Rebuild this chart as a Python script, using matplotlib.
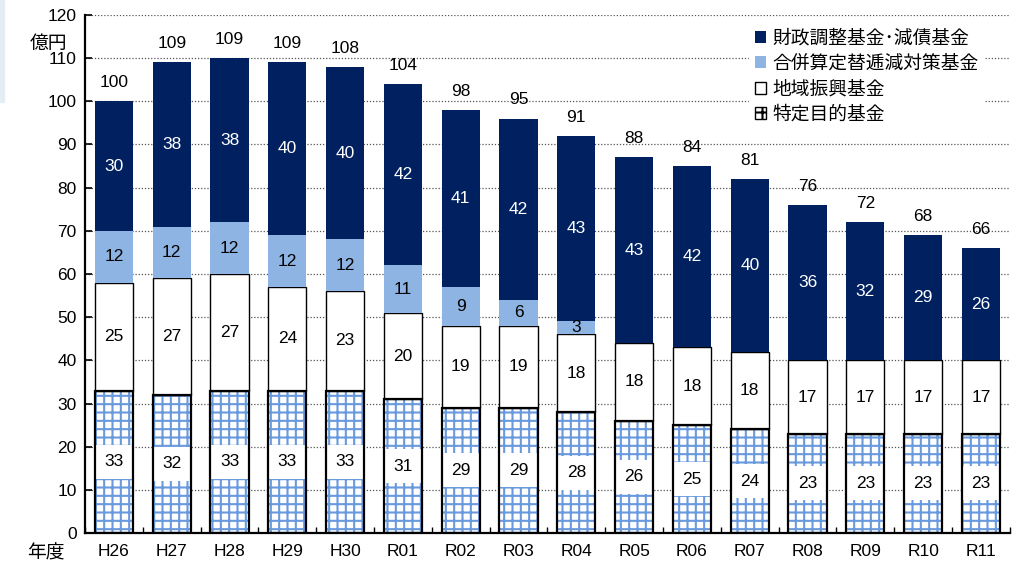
import numpy as np
import matplotlib.pyplot as plt
from matplotlib.patches import Patch, Rectangle

plt.rcParams['font.family'] = ['Liberation Sans', 'Noto Sans CJK JP']
plt.rcParams['hatch.linewidth'] = 1.5

# 基金残高の推移（億円）
nendo = ['H26', 'H27', 'H28', 'H29', 'H30', 'R01', 'R02', 'R03',
         'R04', 'R05', 'R06', 'R07', 'R08', 'R09', 'R10', 'R11']
tokutei = [33, 32, 33, 33, 33, 31, 29, 29, 28, 26, 25, 24, 23, 23, 23, 23]
chiiki = [25, 27, 27, 24, 23, 20, 19, 19, 18, 18, 18, 18, 17, 17, 17, 17]
gappei = [12, 12, 12, 12, 12, 11, 9, 6, 3, 0, 0, 0, 0, 0, 0, 0]
zaisei = [30, 38, 38, 40, 40, 42, 41, 42, 43, 43, 42, 40, 36, 32, 29, 26]
goukei = [100, 109, 109, 109, 108, 104, 98, 95, 91, 88, 84, 81, 76, 72, 68, 66]

NAVY = '#002060'
LIGHT = '#8db4e2'
HATCH = '#6a9ade'

fig = plt.figure(figsize=(10.17, 5.66), dpi=100)
fig.patches.append(Rectangle((0, 0.82), 0.004, 0.18, transform=fig.transFigure,
                             color='#e4edf1', zorder=0))
ax = fig.add_axes([0.0836, 0.0583, 0.9094, 0.9152])

x = np.arange(len(nendo))
w = 0.66

t = np.array(tokutei)
c = np.array(chiiki)
g = np.array(gappei)
z = np.array(zaisei)

# 特定目的基金（格子模様）
ax.bar(x, t, w, color='white', edgecolor=HATCH, hatch='++', linewidth=0, zorder=2)
ax.bar(x, t, w, fill=False, edgecolor='black', linewidth=1.6, zorder=5)
# 地域振興基金
ax.bar(x, c, w, bottom=t, color='white', edgecolor='black', linewidth=1.0, zorder=2)
# 合併算定替逓減対策基金
ax.bar(x, g, w, bottom=t + c, color=LIGHT, edgecolor='none', zorder=2)
# 財政調整基金・減債基金
ax.bar(x, z, w, bottom=t + c + g, color=NAVY, edgecolor='none', zorder=2)

fs = 12.5
for i in range(len(nendo)):
    ax.text(x[i], t[i] / 2, str(tokutei[i]), ha='center', va='center', fontsize=fs,
            zorder=4, bbox=dict(boxstyle='square,pad=0.55', fc='white', ec='none'))
    ax.text(x[i], t[i] + c[i] / 2, str(chiiki[i]), ha='center', va='center',
            fontsize=fs, zorder=4)
    if g[i] > 0:
        ax.text(x[i], t[i] + c[i] + g[i] / 2, str(gappei[i]), ha='center',
                va='center', fontsize=fs, zorder=4)
    ax.text(x[i], t[i] + c[i] + g[i] + z[i] / 2, str(zaisei[i]), ha='center',
            va='center', fontsize=fs, color='white', zorder=4)
    ax.annotate(str(goukei[i]), (x[i], t[i] + c[i] + g[i] + z[i]),
                xytext=(0, 8), textcoords='offset points', ha='center',
                va='bottom', fontsize=fs, zorder=4)

ax.set_xlim(-0.5, len(nendo) - 0.5)
ax.set_ylim(0, 120)
ax.set_yticks(np.arange(0, 121, 10))
ax.set_xticks(x)
ax.set_xticklabels(nendo)
ax.set_xticks(np.arange(-0.5, len(nendo), 1), minor=True)
ax.tick_params(axis='x', which='major', length=0, pad=8, labelsize=fs)
ax.tick_params(axis='x', which='minor', direction='in', length=4, width=1)
ax.tick_params(axis='y', direction='in', length=5, width=1.2, labelsize=fs, pad=6)
ax.grid(axis='y', linestyle=(0, (1, 1.5)), color='#555555', linewidth=0.9, zorder=0)
ax.set_axisbelow(True)
for s in ['top', 'right']:
    ax.spines[s].set_visible(False)
ax.spines['left'].set_linewidth(1.6)
ax.spines['bottom'].set_linewidth(1.6)

fig.text(0.029, 0.922, '億円', fontsize=13.5, va='center')
fig.text(0.027, 0.022, '年度', fontsize=13.5, va='center')

handles = [
    Patch(facecolor=NAVY, edgecolor='none', label='財政調整基金･減債基金'),
    Patch(facecolor=LIGHT, edgecolor='none', label='合併算定替逓減対策基金'),
    Patch(facecolor='white', edgecolor='black', label='地域振興基金'),
    Patch(facecolor='white', edgecolor='black', hatch='++', label='特定目的基金'),
]
leg = ax.legend(handles=handles, loc='upper right', bbox_to_anchor=(0.982, 1.0),
                frameon=True, fancybox=False, framealpha=1, edgecolor='white',
                fontsize=13.5, handlelength=0.6, handleheight=0.6, handletextpad=0.3,
                labelspacing=0.42, borderpad=0.3)

fig.savefig('out.png', dpi=100)
